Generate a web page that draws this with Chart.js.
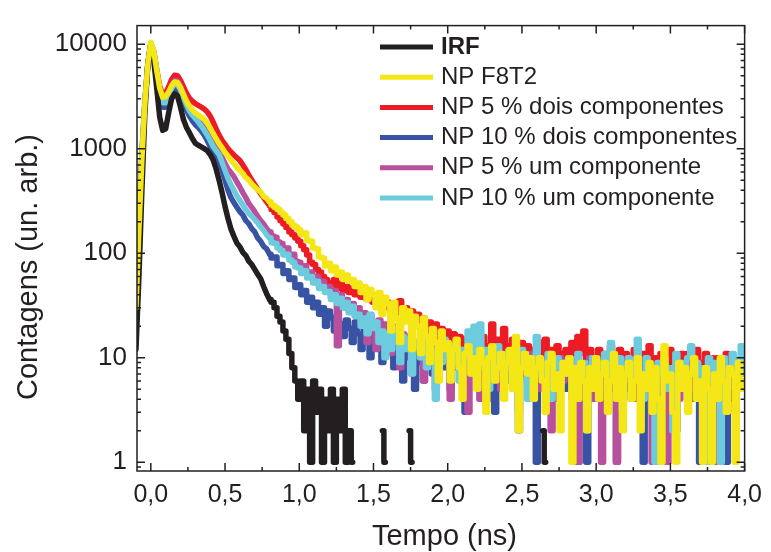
<!DOCTYPE html>
<html lang="pt">
<head>
<meta charset="utf-8">
<title>Decaimento de fluorescência</title>
<script src="https://cdn.jsdelivr.net/npm/chart.js@4.4.1/dist/chart.umd.min.js"></script>
<style>
  html, body { margin: 0; padding: 0; background: #fff; }
  #wrap { width: 771px; height: 552px; }
</style>
</head>
<body>
<div id="wrap"><canvas id="grafico" width="771" height="552"></canvas></div>
<script>
// tempo (ns), um canal a cada 0,02 ns
const tempo = [
  -0.10, -0.08, -0.06, -0.04, -0.02,
  0.00, 0.02, 0.04, 0.06, 0.08, 0.10, 0.12, 0.14, 0.16, 0.18,
  0.20, 0.22, 0.24, 0.26, 0.28, 0.30, 0.32, 0.34, 0.36, 0.38,
  0.40, 0.42, 0.44, 0.46, 0.48, 0.50, 0.52, 0.54, 0.56, 0.58,
  0.60, 0.62, 0.64, 0.66, 0.68, 0.70, 0.72, 0.74, 0.76, 0.78,
  0.80, 0.82, 0.84, 0.86, 0.88, 0.90, 0.92, 0.94, 0.96, 0.98,
  1.00, 1.02, 1.04, 1.06, 1.08, 1.10, 1.12, 1.14, 1.16, 1.18,
  1.20, 1.22, 1.24, 1.26, 1.28, 1.30, 1.32, 1.34, 1.36, 1.38,
  1.40, 1.42, 1.44, 1.46, 1.48, 1.50, 1.52, 1.54, 1.56, 1.58,
  1.60, 1.62, 1.64, 1.66, 1.68, 1.70, 1.72, 1.74, 1.76, 1.78,
  1.80, 1.82, 1.84, 1.86, 1.88, 1.90, 1.92, 1.94, 1.96, 1.98,
  2.00, 2.02, 2.04, 2.06, 2.08, 2.10, 2.12, 2.14, 2.16, 2.18,
  2.20, 2.22, 2.24, 2.26, 2.28, 2.30, 2.32, 2.34, 2.36, 2.38,
  2.40, 2.42, 2.44, 2.46, 2.48, 2.50, 2.52, 2.54, 2.56, 2.58,
  2.60, 2.62, 2.64, 2.66, 2.68, 2.70, 2.72, 2.74, 2.76, 2.78,
  2.80, 2.82, 2.84, 2.86, 2.88, 2.90, 2.92, 2.94, 2.96, 2.98,
  3.00, 3.02, 3.04, 3.06, 3.08, 3.10, 3.12, 3.14, 3.16, 3.18,
  3.20, 3.22, 3.24, 3.26, 3.28, 3.30, 3.32, 3.34, 3.36, 3.38,
  3.40, 3.42, 3.44, 3.46, 3.48, 3.50, 3.52, 3.54, 3.56, 3.58,
  3.60, 3.62, 3.64, 3.66, 3.68, 3.70, 3.72, 3.74, 3.76, 3.78,
  3.80, 3.82, 3.84, 3.86, 3.88, 3.90, 3.92, 3.94, 3.96, 3.98,
  4.00
];

// contagens; null = canal vazio (zero, fora da escala log)
const irf = [
  12, 60, 400, 2200, 6500,
  10000, 7000, 3800, 2000, 1500, 1550, 2200, 3000, 3350, 3200,
  2500, 1900, 1600, 1420, 1250, 1130, 1080, 1040, 1000, 960,
  880, 780, 640, 500, 380, 280, 215, 170, 145, 125,
  115, 102, 95, 84, 78, 70, 63, 57, 48, 41,
  36, 34, 30, 25, 22, 18, 15, 11, 8, 6,
  4, 6, 2, 5, 1, 6, 3, 5, 1, 4,
  2, 5, 1, 4, 2, 5, 1, 2, 1, null,
  null, null, null, null, null, null, null, null, 2, 1,
  null, null, null, null, null, null, null, 2, 1, null,
  null, null, null, null, null, null, null, null, null, null,
  null, null, null, null, null, null, null, null, null, null,
  null, null, null, null, null, null, null, null, null, null,
  null, null, null, null, null, null, null, null, null, null,
  null, null, 2, 1, null, null, null, null, null, null,
  null, null, null, null, null, null, null, null, null, null,
  null, null, null, null, null, null, null, null, null, null,
  null, null, null, null, null, null, null, null, null, null,
  null, null, null, null, null, null, null, null, null, null,
  null, null, null, null, null, null, null, null, null, null,
  null, null, null, null, null, null, null, null, null, null,
  null
];

const npF8T2 = [
  30, 170, 800, 2700, 6500,
  10400, 8600, 5600, 3800, 3100, 3150, 3500, 4000, 4350, 4300,
  3850, 3300, 2850, 2550, 2350, 2200, 2100, 2000, 1900, 1750,
  1580, 1400, 1250, 1120, 1020, 920, 850, 780, 720, 660,
  620, 580, 530, 500, 460, 430, 405, 385, 350, 335,
  310, 290, 275, 262, 245, 232, 215, 200, 185, 178,
  168, 150, 156, 132, 130, 112, 110, 92, 90, 76,
  80, 68, 74, 62, 66, 56, 62, 54, 56, 48,
  52, 42, 48, 36, 45, 40, 30, 42, 26, 38,
  33, 18, 34, 24, 14, 30, 22, 28, 12, 25,
  20, 11, 24, 16, 9, 19, 14, 6, 18, 12,
  14, 6, 12, 15, 8, 4, 11, 13, 7, 10,
  5, 12, 9, 3, 10, 13, 6, 8, 11, 4,
  9, 12, 5, 16, 2, 8, 11, 7, 10, 4,
  8, 10, 6, 3, 9, 11, 5, 7, 2, 9,
  7, 10, 1, 8, 4, 9, 6, 2, 8, 5,
  10, 4, 7, 9, 3, 6, 11, 4, 8, 2,
  7, 9, 4, 6, 10, 2, 7, 5, 9, 3,
  8, 4, 1, 13, 6, 7, 3, 1, 9, 5,
  8, 3, 7, 10, 4, 6, 1, 8, 5, 1,
  7, 4, 10, 6, 3, 8, 7, 1, 9, 5,
  6
];

const np5Dois = [
  28, 160, 780, 2600, 6300,
  10000, 8500, 5700, 4000, 3300, 3400, 3900, 4600, 5050, 5000,
  4500, 3900, 3400, 3050, 2850, 2700, 2600, 2500, 2400, 2250,
  2050, 1800, 1550, 1350, 1200, 1100, 1000, 930, 870, 820,
  770, 700, 630, 560, 500, 455, 410, 370, 340, 310,
  285, 262, 245, 222, 205, 190, 176, 160, 150, 140,
  130, 118, 108, 96, 82, 78, 70, 66, 60, 56,
  52, 50, 56, 46, 52, 44, 48, 42, 46, 40,
  44, 38, 42, 36, 40, 34, 38, 32, 37, 30,
  34, 28, 33, 26, 35, 27, 30, 24, 28, 22,
  26, 20, 24, 18, 22, 17, 21, 15, 19, 14,
  18, 13, 17, 12, 16, 11, 15, 12, 17, 10,
  14, 12, 16, 10, 13, 21, 12, 15, 11, 19,
  13, 11, 15, 9, 12, 14, 10, 13, 8, 12,
  11, 14, 9, 15, 10, 12, 8, 13, 11, 9,
  12, 10, 14, 8, 16, 11, 18, 9, 12, 10,
  10, 12, 7, 11, 9, 13, 8, 10, 12, 7,
  11, 9, 8, 12, 10, 7, 11, 9, 13, 8,
  10, 8, 11, 7, 9, 12, 8, 10, 7, 11,
  9, 11, 7, 10, 12, 8, 9, 11, 7, 10,
  8, 10, 7, 9, 11, 8, 10, 7, 9, 8,
  9
];

const np10Dois = [
  36, 200, 900, 2800, 6500,
  10000, 8200, 5200, 3300, 2500, 2500, 2900, 3500, 3800, 3700,
  3300, 2800, 2350, 2050, 1850, 1700, 1600, 1480, 1350, 1200,
  1050, 930, 840, 760, 620, 500, 400, 340, 305, 275,
  250, 232, 205, 192, 172, 160, 140, 130, 116, 110,
  98, 90, 92, 76, 78, 64, 68, 56, 58, 47,
  50, 40, 44, 34, 38, 30, 34, 26, 30, 20,
  28, 24, 18, 26, 21, 16, 23, 19, 14, 22,
  17, 12, 20, 15, 10, 18, 13, 16, 9, 15,
  12, 16, 8, 13, 11, 6, 14, 10, 12, 5,
  11, 9, 6, 12, 10, 7, 13, 9, 11, 8,
  10, 5, 11, 8, 12, 9, 3, 10, 7, 9,
  11, 6, 9, 10, 4, 8, 3, 9, 7, 10,
  8, 6, 9, 5, 2, 8, 7, 10, 6, 4,
  1, 8, 6, 9, 5, 7, 4, 8, 6, 9,
  5, 7, 8, 4, 1, 6, 9, 1, 7, 5,
  8, 4, 7, 6, 9, 5, 7, 1, 6, 8,
  5, 7, 4, 8, 6, 9, 1, 5, 7, 4,
  8, 6, 3, 7, 5, 8, 6, 2, 7, 5,
  6, 8, 4, 7, 5, 1, 6, 8, 4, 1,
  7, 5, 6, 8, 1, 7, 4, 6, 8, 5,
  6
];

const np5Um = [
  32, 180, 850, 2700, 6500,
  10100, 8500, 5500, 3700, 2900, 2900, 3300, 4000, 4500, 4450,
  4000, 3400, 2900, 2550, 2300, 2150, 2000, 1850, 1700, 1550,
  1380, 1200, 1050, 930, 830, 720, 640, 590, 540, 480,
  430, 380, 340, 300, 275, 250, 225, 205, 190, 172,
  160, 146, 142, 128, 124, 108, 112, 96, 98, 84,
  82, 72, 76, 62, 66, 54, 60, 48, 54, 44,
  48, 38, 44, 13, 40, 30, 36, 28, 33, 26,
  30, 22, 27, 14, 25, 20, 12, 23, 18, 21,
  18, 11, 20, 15, 8, 17, 13, 16, 7, 14,
  12, 15, 6, 13, 10, 14, 5, 12, 9, 11,
  13, 4, 11, 9, 12, 7, 10, 3, 11, 8,
  9, 4, 12, 8, 10, 6, 11, 9, 5, 10,
  8, 11, 7, 9, 3, 10, 8, 6, 11, 7,
  9, 5, 10, 8, 6, 2, 9, 7, 10, 6,
  8, 10, 5, 9, 1, 7, 8, 6, 10, 4,
  7, 9, 1, 8, 6, 10, 5, 1, 8, 7,
  9, 6, 8, 4, 10, 7, 5, 9, 6, 1,
  7, 8, 5, 9, 1, 6, 8, 7, 4, 9,
  6, 8, 5, 7, 9, 4, 1, 8, 6, 7,
  1, 8, 6, 9, 5, 7, 8, 3, 6, 9,
  7
];

const np10Um = [
  34, 190, 870, 2750, 6600,
  10300, 8500, 5400, 3500, 2750, 2750, 3150, 3800, 4150, 4100,
  3650, 3100, 2650, 2300, 2100, 1950, 1800, 1650, 1500, 1350,
  1200, 1050, 960, 880, 740, 620, 520, 450, 400, 355,
  320, 290, 262, 240, 226, 210, 195, 178, 165, 150,
  140, 126, 124, 112, 106, 96, 98, 86, 82, 74,
  72, 64, 68, 58, 60, 52, 54, 46, 48, 42,
  43, 36, 40, 33, 37, 30, 34, 27, 31, 25,
  26, 20, 24, 17, 26, 19, 22, 14, 18, 10,
  17, 12, 19, 14, 9, 16, 12, 15, 7, 13,
  14, 10, 16, 8, 13, 11, 4, 12, 9, 15,
  11, 8, 13, 9, 6, 12, 10, 18, 7, 20,
  9, 21, 8, 12, 5, 10, 7, 13, 9, 6,
  11, 8, 5, 10, 7, 12, 9, 4, 10, 8,
  16, 7, 9, 6, 11, 4, 8, 10, 5, 9,
  7, 10, 4, 8, 11, 6, 9, 2, 8, 10,
  6, 9, 7, 11, 5, 14, 8, 6, 10, 3,
  8, 10, 6, 9, 15, 7, 4, 10, 8, 6,
  1, 9, 7, 10, 5, 8, 2, 11, 7, 9,
  6, 10, 13, 7, 9, 5, 8, 1, 10, 6,
  9, 7, 1, 10, 6, 8, 11, 5, 9, 13,
  7
];

const xTicks = [0, 0.5, 1, 1.5, 2, 2.5, 3, 3.5, 4];
const xTickLabels = ['0,0', '0,5', '1,0', '1,5', '2,0', '2,5', '3,0', '3,5', '4,0'];
const xMinorTicks = [0.25, 0.75, 1.25, 1.75, 2.25, 2.75, 3.25, 3.75];
const yTicks = [1, 10, 100, 1000, 10000];
const yTickLabels = ['1', '10', '100', '1000', '10000'];

const ink = '#231f20';
const fonte = '"Liberation Sans", Arial, Helvetica, sans-serif';

// a partir deste canal (0,80 ns) a curva é desenhada em degraus, como histograma
const corte = 45;

function pontos(valores) {
    return tempo.map((t, i) => ({ x: t, y: valores[i] }));
}

// order: menor número fica por cima (amarelo sobre todos)
const curvas = [
    { label: 'IRF', data: irf, color: ink, order: 1, bold: true },
    { label: 'NP F8T2', data: npF8T2, color: '#f5e616', order: 0 },
    { label: 'NP 5 % dois componentes', data: np5Dois, color: '#ed1c24', order: 5 },
    { label: 'NP 10 % dois componentes', data: np10Dois, color: '#3953a4', order: 4 },
    { label: 'NP 5 % um componente', data: np5Um, color: '#b8509e', order: 3 },
    { label: 'NP 10 % um componente', data: np10Um, color: '#6ccbdc', order: 2 }
];

function conjunto(c, data, stepped) {
    return {
        label: c.label,
        data: data,
        borderColor: c.color,
        backgroundColor: c.color,
        borderWidth: 5.5,
        borderJoinStyle: 'round',
        borderCapStyle: 'round',
        stepped: stepped,
        pointRadius: 0,
        tension: 0,
        spanGaps: false,
        clip: 0,
        order: c.order
    };
}

const datasets = [];
curvas.forEach(c => {
    const p = pontos(c.data);
    datasets.push(conjunto(c, p.slice(0, corte + 1), false));
    datasets.push(conjunto(c, p.slice(corte), 'middle'));
});

// moldura com marcas para dentro nos quatro lados
const moldura = {
    id: 'moldura',
    afterDatasetsDraw(chart) {
        const { ctx, chartArea: a, scales: { x, y } } = chart;
        ctx.save();
        ctx.strokeStyle = ink;
        ctx.lineWidth = 1.5;
        ctx.strokeRect(a.left, a.top, a.right - a.left, a.bottom - a.top);
        ctx.beginPath();
        const marcaX = (v, len) => {
            const px = x.getPixelForValue(v);
            ctx.moveTo(px, a.bottom); ctx.lineTo(px, a.bottom - len);
            ctx.moveTo(px, a.top); ctx.lineTo(px, a.top + len);
        };
        const marcaY = (v, len) => {
            const py = y.getPixelForValue(v);
            if (py < a.top - 0.5 || py > a.bottom + 0.5) return;
            ctx.moveTo(a.left, py); ctx.lineTo(a.left + len, py);
            ctx.moveTo(a.right, py); ctx.lineTo(a.right - len, py);
        };
        xTicks.forEach(v => marcaX(v, 8));
        xMinorTicks.forEach(v => marcaX(v, 4));
        [0.1, 1, 10, 100, 1000, 10000].forEach(dec => {
            for (let m = 2; m <= 9; m++) marcaY(dec * m, 4);
        });
        yTicks.forEach(v => marcaY(v, 8));
        ctx.stroke();
        ctx.restore();
    },
    afterDraw(chart) {
        const { ctx } = chart;
        ctx.save();
        ctx.fillStyle = ink;
        ctx.textBaseline = 'middle';

        // legenda
        let ly = 47;
        curvas.forEach(c => {
            ctx.strokeStyle = c.color;
            ctx.lineWidth = 5;
            ctx.beginPath();
            ctx.moveTo(380, ly);
            ctx.lineTo(433, ly);
            ctx.stroke();
            ctx.font = (c.bold ? 'bold ' : '') + '24px ' + fonte;
            ctx.textAlign = 'left';
            ctx.fillText(c.label, 441, ly);
            ly += 30.2;
        });

        // títulos dos eixos
        ctx.font = '29px ' + fonte;
        ctx.textAlign = 'center';
        ctx.fillText('Tempo (ns)', 444.5, 537);
        ctx.translate(29, 267);
        ctx.rotate(-Math.PI / 2);
        ctx.fillText('Contagens (un. arb.)', 0, 0);
        ctx.restore();
    }
};

new Chart(document.getElementById('grafico'), {
    type: 'line',
    data: { datasets: datasets },
    options: {
        responsive: false,
        animation: false,
        devicePixelRatio: 1,
        layout: { padding: { top: 15, right: 19, left: 0, bottom: 0 } },
        plugins: { legend: { display: false }, tooltip: { enabled: false } },
        scales: {
            x: {
                type: 'linear',
                min: -0.093,
                max: 4.0,
                grid: { display: false, drawTicks: false },
                border: { display: false },
                afterBuildTicks: s => { s.ticks = xTicks.map(v => ({ value: v })); },
                afterFit: s => { s.height = 81; },
                ticks: {
                    autoSkip: false,
                    maxRotation: 0,
                    minRotation: 0,
                    padding: 9,
                    color: ink,
                    font: { family: fonte, size: 25 },
                    callback: (v, i) => xTickLabels[i]
                }
            },
            y: {
                type: 'logarithmic',
                min: 0.824,
                max: 15070,
                grid: { display: false, drawTicks: false },
                border: { display: false },
                afterBuildTicks: s => { s.ticks = yTicks.map(v => ({ value: v })); },
                afterFit: s => { s.width = 137; },
                ticks: {
                    autoSkip: false,
                    padding: 10,
                    color: ink,
                    font: { family: fonte, size: 26 },
                    callback: (v, i) => yTickLabels[i]
                }
            }
        }
    },
    plugins: [moldura]
});
</script>
</body>
</html>
